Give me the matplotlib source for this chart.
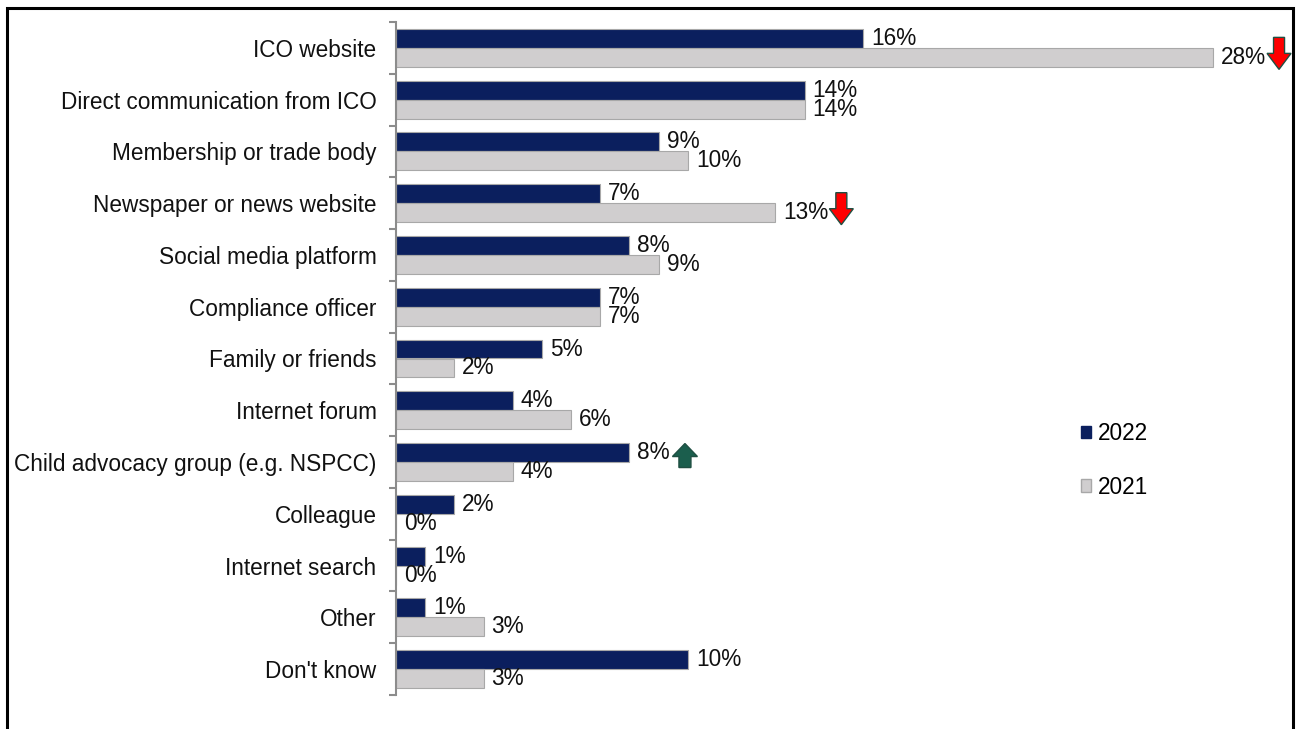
import matplotlib
matplotlib.use("Agg")
import matplotlib.pyplot as plt
import numpy as np
from matplotlib.patches import Patch, Polygon, Rectangle
from matplotlib.transforms import Affine2D, ScaledTranslation

plt.rcParams["font.family"] = ["Liberation Sans", "DejaVu Sans"]

# ── dados ─────────────────────────────────────────────────────
categorias = [
    "ICO website", "Direct communication from ICO", "Membership or trade body",
    "Newspaper or news website", "Social media platform", "Compliance officer",
    "Family or friends", "Internet forum", "Child advocacy group (e.g. NSPCC)",
    "Colleague", "Internet search", "Other", "Don't know",
]
valores_2022 = [16, 14, 9, 7, 8, 7, 5, 4, 8, 2, 1, 1, 10]
valores_2021 = [28, 14, 10, 13, 9, 7, 2, 6, 4, 0, 0, 3, 3]
series = ["2022", "2021"]

# mudanças significativas: (serie, indice da categoria, direcao)
mudancas = [("2021", 0, "down"), ("2021", 3, "down"), ("2022", 8, "up")]

COR_2022 = "#0B1F5E"
COR_2021 = "#D0CECF"
BORDA = "#A8A8A8"
FS = 16.3

W, H, DPI = 1301, 729, 100
fig = plt.figure(figsize=(W / DPI, H / DPI), dpi=DPI)
ax = fig.add_axes([396 / W, 1 - 695 / H, (1290 - 396) / W, (695 - 22) / H])

n = len(categorias)
y = np.arange(n)
h = 0.367

ax.barh(y - h / 2, valores_2022, height=h, color=COR_2022, edgecolor=BORDA, lw=0.8)
ax.barh(y + h / 2, valores_2021, height=h, color=COR_2021, edgecolor=BORDA, lw=0.8)

ax.set_ylim(n - 0.5, -0.5)
ax.set_xlim(0, (1290 - 396) / 29.18)

# rótulos de valor
for i in range(n):
    for v, off in ((valores_2022[i], -h / 2), (valores_2021[i], h / 2)):
        ax.annotate(f"{v}%", (v, i + off), xytext=(8, 0), textcoords="offset pixels",
                    va="center", ha="left", fontsize=FS, color="#111111")

# setas de mudança significativa
def seta(x, yc, direcao):
    if direcao == "down":
        larg, haste, topo, base, cabeca = 24, 11, 20, -12, 16
        x0 = 54
        pts = [(x0 + (larg - haste) / 2, topo), (x0 + (larg + haste) / 2, topo),
               (x0 + (larg + haste) / 2, base + cabeca), (x0 + larg, base + cabeca),
               (x0 + larg / 2, base), (x0, base + cabeca),
               (x0 + (larg - haste) / 2, base + cabeca)]
        fc = "#FF0000"
    else:
        larg, haste, topo, base, cabeca = 25, 12, 9, -15, 13
        x0 = 43
        pts = [(x0 + (larg - haste) / 2, base), (x0 + (larg + haste) / 2, base),
               (x0 + (larg + haste) / 2, topo - cabeca), (x0 + larg, topo - cabeca),
               (x0 + larg / 2, topo), (x0, topo - cabeca),
               (x0 + (larg - haste) / 2, topo - cabeca)]
        fc = "#1B5E4D"
    tr = Affine2D() + ScaledTranslation(x, yc, ax.transData)
    ax.add_patch(Polygon(pts, closed=True, transform=tr, facecolor=fc,
                         edgecolor="#1F4F42", lw=1.0, clip_on=False))

for serie, idx, direcao in mudancas:
    if serie == "2022":
        seta(valores_2022[idx], idx - h / 2, direcao)
    else:
        seta(valores_2021[idx], idx + h / 2, direcao)

# eixos
for lado in ["top", "right", "bottom"]:
    ax.spines[lado].set_visible(False)
ax.spines["left"].set_color("#8C8C8C")
ax.spines["left"].set_linewidth(1.5)
ax.set_xticks([])
ax.set_yticks(y)
ax.set_yticklabels(categorias, fontsize=FS, color="#111111")
ax.tick_params(axis="y", which="major", length=0, pad=14)
ax.set_yticks(np.arange(-0.5, n, 1), minor=True)
ax.tick_params(axis="y", which="minor", length=5, width=1.5, color="#8C8C8C")

# legenda
handles = [Patch(facecolor=COR_2022, edgecolor=COR_2022),
           Patch(facecolor=COR_2021, edgecolor=BORDA)]
fig.legend(handles, series, loc="upper left", bbox_to_anchor=(1081 / W, 1 - 422 / H),
           frameon=False, fontsize=FS, handlelength=0.45, handleheight=0.45,
           handletextpad=0.3, labelspacing=1.35, borderpad=0, borderaxespad=0)

# moldura
fig.add_artist(Rectangle((7 / W, -0.1), (1293 - 7) / W, 1.1 - 8 / H,
                         transform=fig.transFigure, fill=False, lw=2.2,
                         edgecolor="black"))

fig.savefig("out.png", dpi=DPI)
